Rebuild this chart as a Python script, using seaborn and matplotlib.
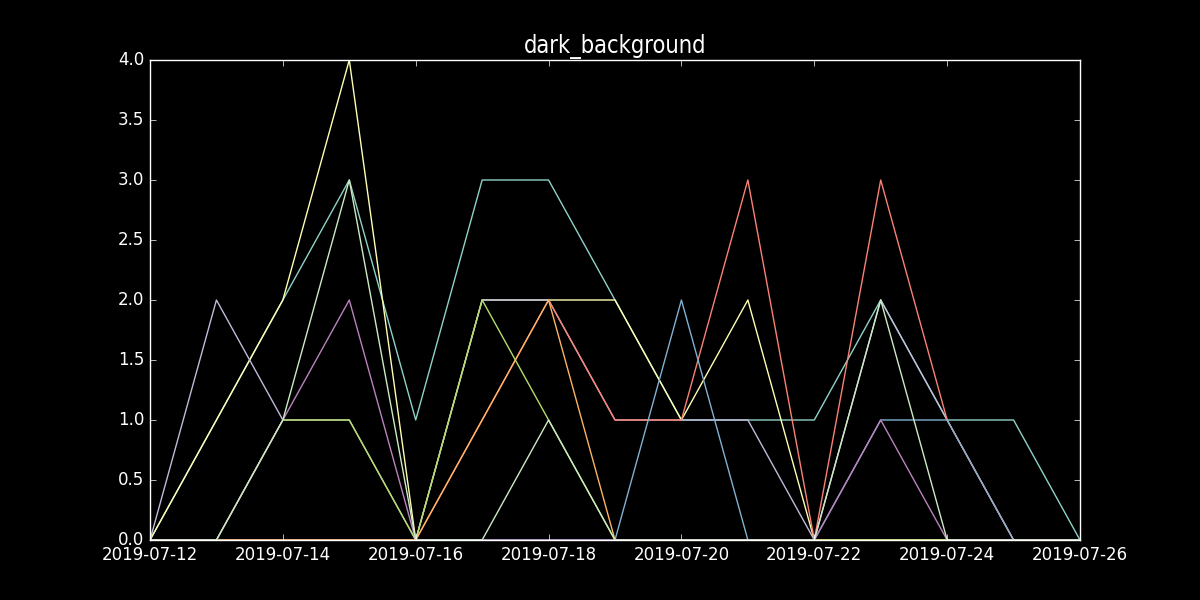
import pandas as pd
import matplotlib
matplotlib.use("Agg")
import matplotlib.pyplot as plt
import matplotlib.dates as mdates
import seaborn as sns

# daily counts per series, 2019-07-12 .. 2019-07-26
dates = pd.date_range("2019-07-12", "2019-07-26", freq="D")
s_teal     = [0, 1, 2, 3, 1, 3, 3, 2, 1, 1, 1, 2, 1, 1, 0]
s_yellow   = [0, 1, 2, 4, 0, 2, 2, 2, 1, 2, 0, 0, 0, 0, 0]
s_lavender = [0, 2, 1, 1, 0, 2, 2, 1, 1, 1, 0, 2, 1, 0, 0]
s_red      = [0, 0, 0, 0, 0, 1, 2, 1, 1, 3, 0, 3, 1, 0, 0]
s_blue     = [0, 0, 0, 0, 0, 0, 0, 0, 2, 0, 0, 1, 1, 0, 0]
s_orange   = [0, 0, 0, 0, 0, 1, 2, 0, 0, 0, 0, 0, 0, 0, 0]
s_green    = [0, 0, 1, 1, 0, 2, 1, 0, 0, 0, 0, 0, 0, 0, 0]
s_purple   = [0, 0, 1, 2, 0, 0, 0, 0, 0, 0, 0, 1, 0, 0, 0]
s_mint     = [0, 0, 1, 3, 0, 0, 1, 0, 0, 0, 0, 2, 0, 0, 0]

series = {"a": s_teal, "b": s_yellow, "c": s_lavender, "d": s_red, "e": s_blue,
          "f": s_orange, "g": s_green, "h": s_purple, "i": s_mint}
colors = ["#8dd3c7", "#feffb3", "#bfbbd9", "#fa8174", "#81b1d2",
          "#fdb462", "#b3de69", "#bc82bd", "#ccebc4"]

rows = []
for name, vals in series.items():
    for d, v in zip(dates, vals):
        rows.append({"date": d, "count": v, "series": name})
df = pd.DataFrame(rows)

plt.style.use(["classic", "dark_background"])
fig, ax = plt.subplots(figsize=(12, 6), dpi=100)
fig.subplots_adjust(left=0.125, right=0.9, bottom=0.1, top=0.9)

sns.lineplot(data=df, x="date", y="count", hue="series", palette=colors,
             legend=False, linewidth=1.0, ax=ax)

ax.set_title("dark_background", fontsize=17, fontstretch="condensed",
             family=["DejaVu Sans Condensed", "DejaVu Sans"])
ax.set_xlabel("")
ax.set_ylabel("")
ax.set_xlim(dates[0], dates[-1])
ax.set_ylim(0, 4)
ax.set_yticks([0, 0.5, 1, 1.5, 2, 2.5, 3, 3.5, 4])
ax.yaxis.set_major_formatter(matplotlib.ticker.FormatStrFormatter("%.1f"))
ax.xaxis.set_major_locator(mdates.DayLocator(interval=2))
ax.xaxis.set_major_formatter(mdates.DateFormatter("%Y-%m-%d"))
ax.tick_params(labelsize=12)

fig.savefig("out.png", dpi=100, facecolor="black")
